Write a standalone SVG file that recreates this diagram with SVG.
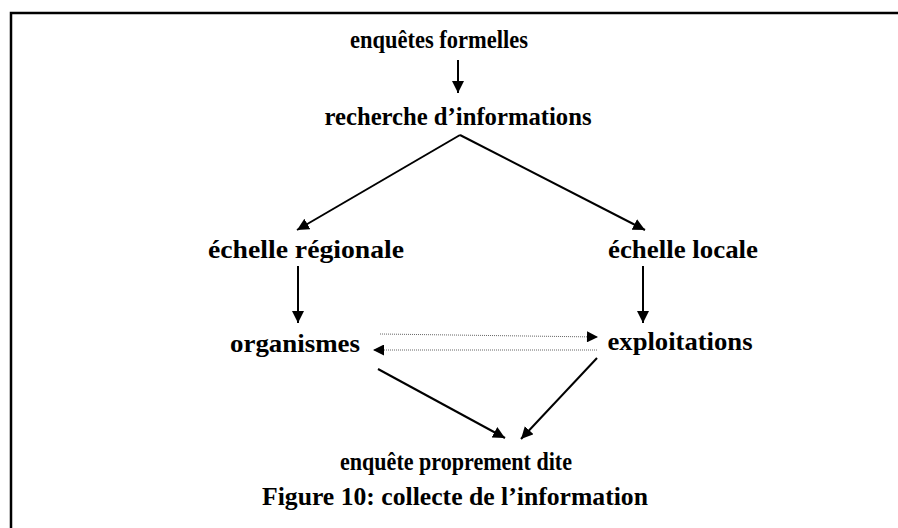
<svg xmlns="http://www.w3.org/2000/svg" width="898" height="528" viewBox="0 0 898 528">
  <style>
    .t { font-family: "Liberation Serif", "Times New Roman", serif; font-weight: bold; font-size: 25px; fill: #000; text-anchor: middle; }
    .edge { stroke: #000; stroke-width: 2; fill: none; }
    .dot { stroke: #666; stroke-width: 1; stroke-dasharray: 1 1; fill: none; }
  </style>
  <defs>
    <marker id="ah" viewBox="0 0 10 10" refX="10" refY="5" markerWidth="6" markerHeight="6" markerUnits="strokeWidth" orient="auto">
      <path d="M0,0 L10,5 L0,10 Z" fill="#000"/>
    </marker>
    <marker id="ahs" viewBox="0 0 10 10" refX="10" refY="5" markerWidth="13" markerHeight="11" markerUnits="userSpaceOnUse" orient="auto">
      <path d="M0,0 L10,5 L0,10 Z" fill="#000"/>
    </marker>
  </defs>
  <rect x="0" y="0" width="898" height="528" fill="#fff"/>
  <!-- frame, open past the right and bottom edges -->
  <rect x="11" y="13" width="900" height="530" fill="none" stroke="#000" stroke-width="2.5"/>

  <g id="n-formelles"><text class="t" x="439" y="48" textLength="178" lengthAdjust="spacingAndGlyphs">enquêtes formelles</text></g>
  <g id="n-recherche"><text class="t" x="458" y="125" textLength="267" lengthAdjust="spacingAndGlyphs">recherche d’informations</text></g>
  <g id="n-regionale"><text class="t" x="306" y="258" textLength="196" lengthAdjust="spacingAndGlyphs">échelle régionale</text></g>
  <g id="n-locale"><text class="t" x="683" y="258" textLength="150" lengthAdjust="spacingAndGlyphs">échelle locale</text></g>
  <g id="n-organismes"><text class="t" x="295" y="352" textLength="130" lengthAdjust="spacingAndGlyphs">organismes</text></g>
  <g id="n-exploitations"><text class="t" x="680" y="350" textLength="145" lengthAdjust="spacingAndGlyphs">exploitations</text></g>
  <g id="n-enquete"><text class="t" x="456" y="470" textLength="232" lengthAdjust="spacingAndGlyphs">enquête proprement dite</text></g>
  <g id="caption"><text class="t" x="455" y="505" textLength="386" lengthAdjust="spacingAndGlyphs">Figure 10: collecte de l’information</text></g>

  <g id="connectors">
    <line class="edge" x1="458" y1="60" x2="458" y2="93" marker-end="url(#ah)"/>
    <line class="edge" x1="460" y1="135" x2="297" y2="230" marker-end="url(#ah)"/>
    <line class="edge" x1="460" y1="135" x2="645" y2="230" marker-end="url(#ah)"/>
    <line class="edge" x1="298" y1="266" x2="298" y2="323" marker-end="url(#ah)"/>
    <line class="edge" x1="643" y1="266" x2="643" y2="323" marker-end="url(#ah)"/>
    <line class="dot" x1="380" y1="334" x2="598" y2="337" marker-end="url(#ahs)"/>
    <line class="dot" x1="597" y1="350" x2="373" y2="350" marker-end="url(#ahs)"/>
    <line class="edge" x1="378" y1="369" x2="505" y2="438" marker-end="url(#ah)"/>
    <line class="edge" x1="597" y1="358" x2="521" y2="439" marker-end="url(#ah)"/>
  </g>
</svg>
